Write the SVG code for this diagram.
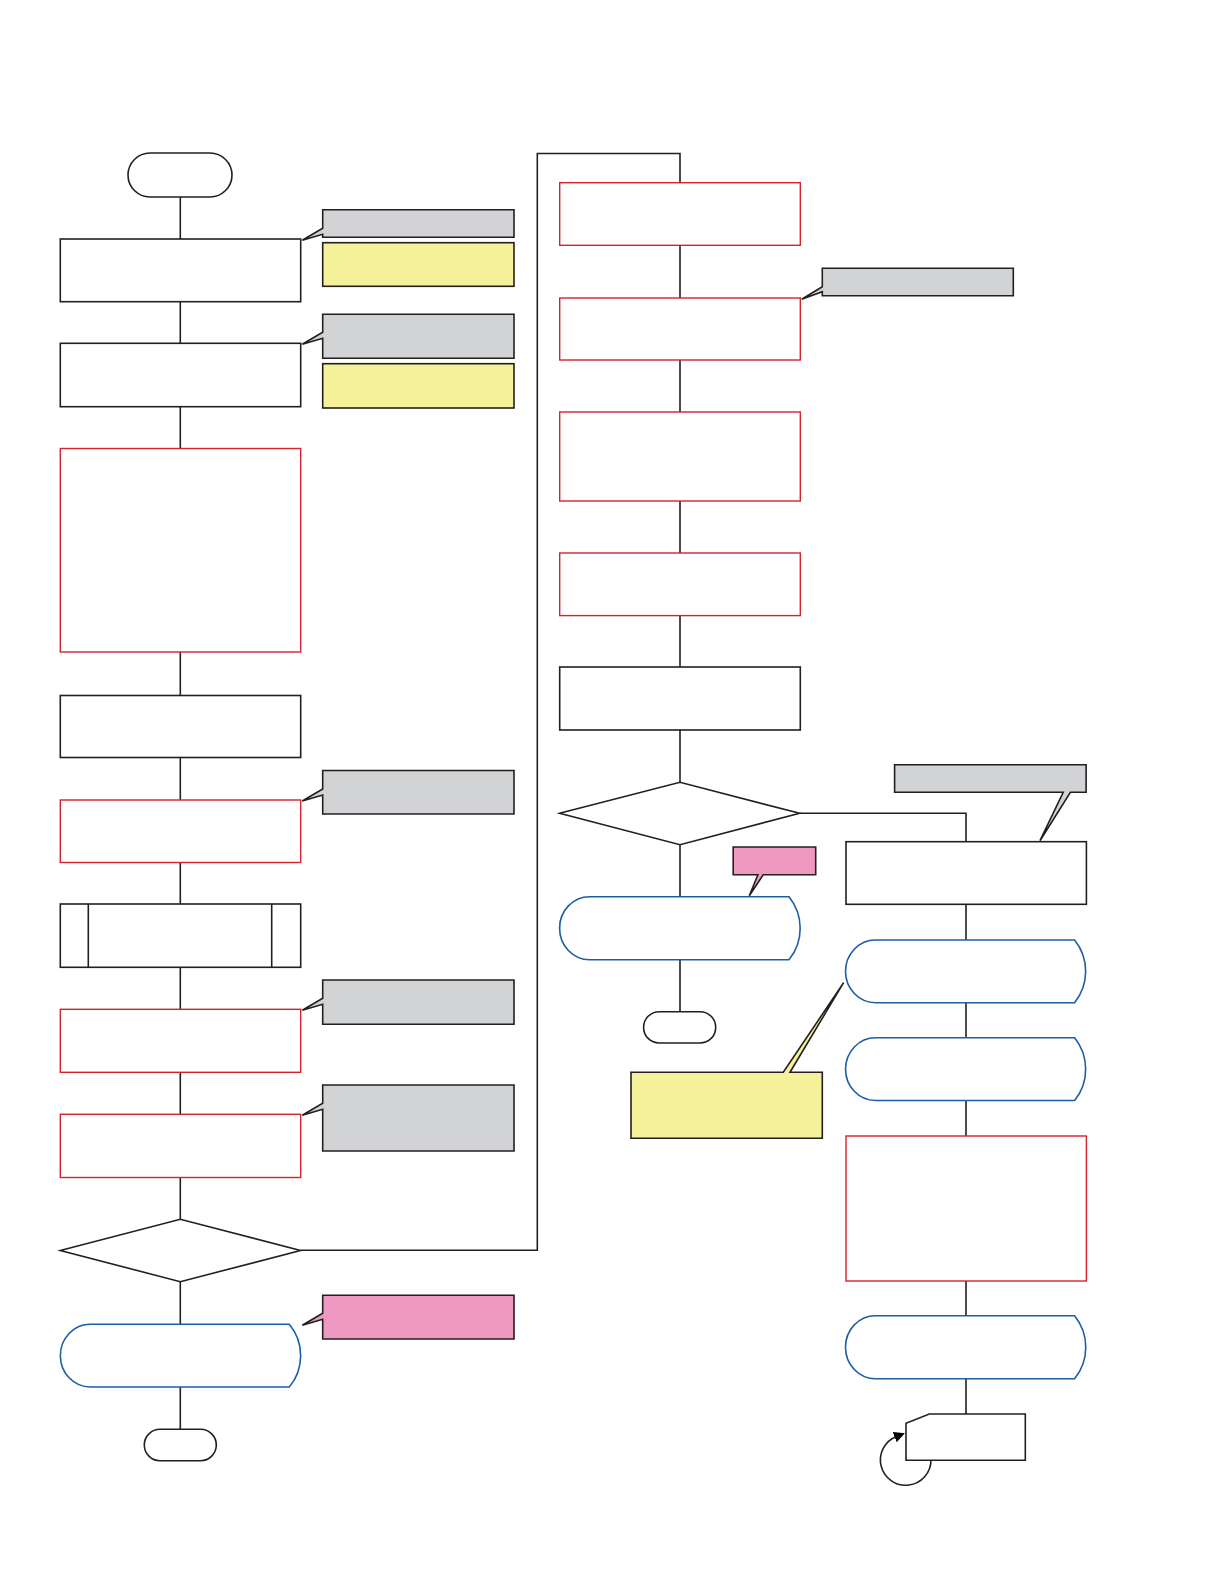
<svg xmlns="http://www.w3.org/2000/svg" width="1219" height="1587" viewBox="0 0 1219 1587">
<defs>
<style>
.blk{fill:#fff;stroke:#231f20;stroke-width:1.6}
.red{fill:#fff;stroke:#d3232c;stroke-width:1.4}
.blu{fill:#fff;stroke:#1b5ea6;stroke-width:1.6}
.gry{fill:#d1d3d4;stroke:#231f20;stroke-width:1.6}
.yel{fill:#f4f19a;stroke:#231f20;stroke-width:1.6}
.pnk{fill:#ef98c1;stroke:#231f20;stroke-width:1.6}
.con{fill:none;stroke:#231f20;stroke-width:1.6}
</style>
<marker id="ah" markerWidth="11" markerHeight="11" refX="2" refY="5.5" orient="auto" markerUnits="userSpaceOnUse">
<path d="M0,0 L11,5.5 L0,11 Z" fill="#000"/>
</marker>
</defs>
<rect width="1219" height="1587" fill="#fff"/>
<g id="connectors">
<path class="con" d="M180.3,196.7V239 M180.3,301.7V343.3 M180.3,406.7V448.5 M180.3,652V695.5 M180.3,757.5V800 M180.3,862.5V904 M180.3,967.3V1009.3 M180.3,1072.3V1114.3 M180.3,1177.5V1219.3 M180.3,1281.7V1324.3 M180.3,1387V1429.3"/>
<path class="con" d="M300.5,1250.3H537.3V153.5H680V182.7"/>
<path class="con" d="M680,245.3V298 M680,360V412 M680,501V553 M680,615.6V667 M680,730V782.3 M680,844.7V896.7 M680,959.7V1011.7"/>
<path class="con" d="M799.6,813.3H966V841.7"/>
<path class="con" d="M966,904.3V940 M966,1002.7V1037.8 M966,1100.5V1136 M966,1281V1315.7 M966,1378.7V1414"/>
<path class="con" d="M931,1460 A25.3,25.3 0 1 1 896.5,1436.4" marker-end="url(#ah)"/>
</g>
<g id="start"><rect class="blk" x="128" y="153" width="104" height="44" rx="22"/></g>
<g id="box1"><rect class="blk" x="60.3" y="239" width="240.4" height="62.7"/></g>
<g id="note1"><path class="gry" d="M322.7,209.7H514V237.3H322.7V234.3L302.3,240.3L322.7,228.3Z"/></g>
<g id="note1b"><rect class="yel" x="322.7" y="242.7" width="191.3" height="43.6"/></g>
<g id="box2"><rect class="blk" x="60.3" y="343.3" width="240.4" height="63.4"/></g>
<g id="note2"><path class="gry" d="M322.7,314.3H514V358.3H322.7V338.3L302.3,344.3L322.7,332.3Z"/></g>
<g id="note2b"><rect class="yel" x="322.7" y="363.7" width="191.3" height="44.3"/></g>
<g id="box3"><rect class="red" x="60.3" y="448.5" width="240.4" height="203.5"/></g>
<g id="box4"><rect class="blk" x="60.3" y="695.5" width="240.4" height="62"/></g>
<g id="box5"><rect class="red" x="60.3" y="800" width="240.4" height="62.5"/></g>
<g id="note3"><path class="gry" d="M322.7,770.5H514V814H322.7V795L302.3,801L322.7,789Z"/></g>
<g id="pred"><rect class="blk" x="60.3" y="904" width="240.4" height="63.3"/><path class="con" d="M88.3,904V967.3 M271.7,904V967.3"/></g>
<g id="box6"><rect class="red" x="60.3" y="1009.3" width="240.4" height="63"/></g>
<g id="note4"><path class="gry" d="M322.7,980H514V1024.3H322.7V1004.3L302.3,1010.3L322.7,998.3Z"/></g>
<g id="box7"><rect class="red" x="60.3" y="1114.3" width="240.4" height="63.2"/></g>
<g id="note5"><path class="gry" d="M322.7,1085H514V1151H322.7V1109.3L302.3,1115.3L322.7,1103.3Z"/></g>
<g id="dec1"><path class="blk" d="M60.3,1250.5L180.3,1219.3L300.5,1250.5L180.3,1281.7Z"/></g>
<g id="disp1"><path class="blu" d="M90.3,1324.3H289.3A49,49 0 0 1 289.3,1387H90.3A30,31.35 0 0 1 90.3,1324.3Z"/></g>
<g id="note6"><path class="pnk" d="M322.7,1295.3H514V1339H322.7V1319.3L302.3,1325.3L322.7,1313.3Z"/></g>
<g id="end1"><rect class="blk" x="144.3" y="1429.3" width="72" height="31.4" rx="15.7"/></g>
<g id="r1"><rect class="red" x="559.7" y="182.7" width="240.6" height="62.6"/></g>
<g id="r2"><rect class="red" x="559.7" y="298" width="240.6" height="62"/></g>
<g id="note7"><path class="gry" d="M822.3,268.3H1013.3V295.7H822.3V291.7L801.7,299.3L822.3,286.7Z"/></g>
<g id="r3"><rect class="red" x="559.7" y="412" width="240.6" height="89"/></g>
<g id="r4"><rect class="red" x="559.7" y="553" width="240.6" height="62.6"/></g>
<g id="r5"><rect class="blk" x="559.7" y="667" width="240.6" height="63"/></g>
<g id="dec2"><path class="blk" d="M559.6,813.3L680,782.3L799.6,813.3L680,844.7Z"/></g>
<g id="disp2"><path class="blu" d="M589.6,896.7H789A50,50 0 0 1 789,959.7H589.6A30,31.5 0 0 1 589.6,896.7Z"/></g>
<g id="note8"><path class="pnk" d="M733.2,847H815.7V874.7H763.2L749.3,895.7L757.9,874.7H733.2Z"/></g>
<g id="end2"><rect class="blk" x="643.6" y="1011.7" width="72.1" height="31.3" rx="15.6"/></g>
<g id="note9"><path class="yel" d="M631,1072.3H783.3L843.6,982.7L790,1072.3H822.3V1138.3H631Z"/></g>
<g id="note10"><path class="gry" d="M894.6,764.7H1086.1V792.3H1070.4L1040,840.7L1063.2,792.3H894.6Z"/></g>
<g id="f1"><rect class="blk" x="846" y="841.7" width="240.4" height="62.6"/></g>
<g id="disp3"><path class="blu" d="M875.5,940H1074.6A50,50 0 0 1 1074.6,1002.7H875.5A30,31.35 0 0 1 875.5,940Z"/></g>
<g id="disp4"><path class="blu" d="M875.5,1037.8H1074.6A50,50 0 0 1 1074.6,1100.5H875.5A30,31.35 0 0 1 875.5,1037.8Z"/></g>
<g id="f2"><rect class="red" x="846" y="1136" width="240.4" height="145"/></g>
<g id="disp5"><path class="blu" d="M875.5,1315.7H1074.6A50,50 0 0 1 1074.6,1378.7H875.5A30,31.5 0 0 1 875.5,1315.7Z"/></g>
<g id="loop"><path class="blk" d="M929.3,1414H1025.3V1460.3H906V1423.3Z"/></g>
</svg>
